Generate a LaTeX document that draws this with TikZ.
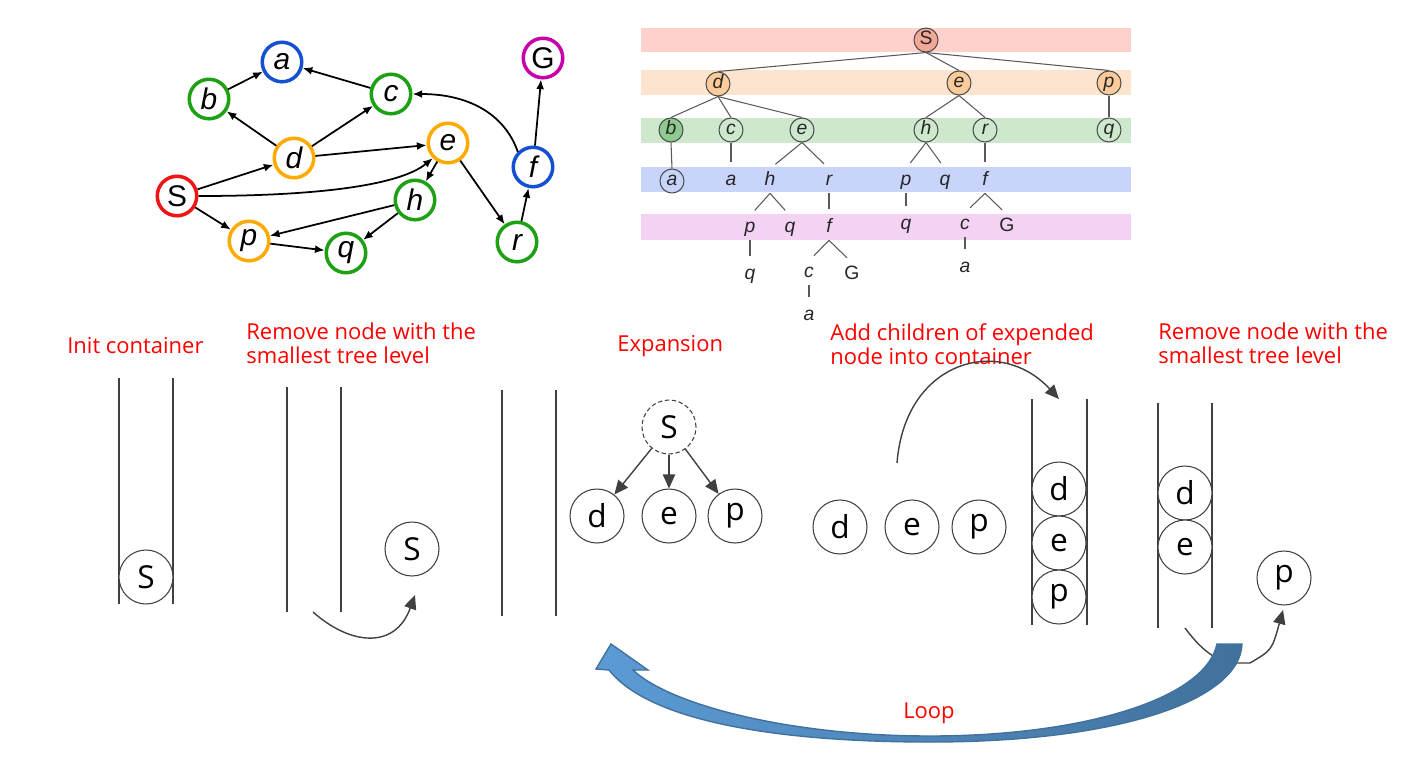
\documentclass[tikz,border=0pt]{standalone}
\usepackage{fontspec}
\setmainfont{Open Sans}
\newfontfamily\graphfont{Liberation Sans}
\usetikzlibrary{arrows.meta}

\definecolor{lblred}{RGB}{255,0,0}
\definecolor{gred}{RGB}{240,20,20}
\definecolor{ggreen}{RGB}{30,160,20}
\definecolor{gorange}{RGB}{255,170,0}
\definecolor{gblue}{RGB}{20,80,210}
\definecolor{gmagenta}{RGB}{200,0,170}
\definecolor{bandred}{RGB}{255,208,204}
\definecolor{bandorange}{RGB}{252,228,206}
\definecolor{bandgreen}{RGB}{206,232,205}
\definecolor{bandblue}{RGB}{201,212,250}
\definecolor{bandpink}{RGB}{243,210,243}
\definecolor{fillsalmon}{RGB}{245,168,152}
\definecolor{fillorange}{RGB}{251,203,155}
\definecolor{fillgreen}{RGB}{143,203,143}
\definecolor{loopdark}{RGB}{65,113,156}
\definecolor{looplight}{RGB}{91,155,213}
\definecolor{ink}{RGB}{64,64,64}

\tikzset{
  gnode/.style={circle, draw=#1, line width=2pt, minimum size=7.9mm, inner sep=0pt,
    font=\graphfont\fontsize{17}{17}\selectfont\itshape},
  gedge/.style={-{Latex[length=5.5pt,width=4.5pt]}, line width=1pt},
  tnode/.style={circle, minimum size=4.8mm, inner sep=0pt, text height=8pt, text depth=2.5pt,
    text=black!85, font=\graphfont\fontsize{11}{11}\selectfont\itshape},
  tcirc/.style={tnode, draw=black!70, line width=0.6pt, fill=#1},
  tedge/.style={draw=black!65, line width=0.6pt},
  tleaf/.style={tedge, shorten >=1.4mm},
  band/.style={fill=#1, draw=none},
  box/.style={circle, draw=ink, line width=0.6pt, fill=white, minimum size=10.8mm, inner sep=0pt,
    font=\fontsize{18}{18}\selectfont},
  wall/.style={draw=ink, line width=0.6pt},
  flow/.style={draw=ink, line width=0.8pt, -{Triangle[length=8pt,width=7pt]}},
  lbl/.style={text=lblred, align=left, inner sep=0pt, anchor=west,
    font=\fontsize{12.5}{13.8}\selectfont}
}

\begin{document}
\begin{tikzpicture}[x=0.2mm, y=-0.2mm]
\useasboundingbox (0,0) rectangle (1420,758);

% search graph
\node[gnode=gblue] (ga) at (282,62) {a};
\node[gnode=ggreen] (gb) at (209,99) {b};
\node[gnode=ggreen] (gc) at (391,94) {c};
\node[gnode=gorange] (gd) at (294,158) {d};
\node[gnode=gorange] (ge) at (448,143) {e};
\node[gnode=gred] (gS) at (177,196) {\upshape S};
\node[gnode=ggreen] (gh) at (415,200) {h};
\node[gnode=gorange] (gp) at (249,241) {p};
\node[gnode=ggreen] (gq) at (346,253) {q};
\node[gnode=ggreen] (gr) at (517,242) {r};
\node[gnode=gblue] (gf) at (533,167) {f};
\node[gnode=gmagenta] (gG) at (543,58) {\upshape G};

\draw[gedge] (gb) -- (ga);
\draw[gedge] (gc) -- (ga);
\draw[gedge] (gd) -- (gb);
\draw[gedge] (gd) -- (gc);
\draw[gedge] (gd) -- (ge);
\draw[gedge] (gS) -- (gd);
\draw[gedge] (gS.east) .. controls (320,196) and (400,185) .. (ge.south west);
\draw[gedge] (gS) -- (gp);
\draw[gedge] (ge) -- (gh);
\draw[gedge] (ge) -- (gr);
\draw[gedge] (gh) -- (gp);
\draw[gedge] (gh) -- (gq);
\draw[gedge] (gp) -- (gq);
\draw[gedge] (gr) -- (gf);
\draw[gedge] (gf) -- (gG);
\draw[gedge] (gf.north west) .. controls (505,115) and (470,94) .. (gc.east);

% search tree
\path[band=bandred] (641,28) rectangle (1131,52);
\path[band=bandorange] (641,70) rectangle (1131,95);
\path[band=bandgreen] (641,118) rectangle (1131,143);
\path[band=bandblue] (641,167) rectangle (1131,192);
\path[band=bandpink] (641,214) rectangle (1131,240);

\node[tcirc=fillsalmon] (t0S) at (926,40) {\upshape S};

\node[tcirc=fillorange] (t1d) at (718,84) {d};
\node[tcirc=fillorange] (t1e) at (959,83) {e};
\node[tcirc=fillorange] (t1p) at (1109,83) {p};

\node[tcirc=fillgreen] (t2b) at (671,130) {b};
\node[tcirc=none] (t2c) at (731,130) {c};
\node[tcirc=none] (t2e) at (802,130) {e};
\node[tcirc=none] (t2h) at (926,130) {h};
\node[tcirc=none] (t2r) at (985,130) {r};
\node[tcirc=none] (t2q) at (1109,130) {q};

\node[tcirc=none] (t3a) at (672,181) {a};
\node[tnode] (t3a2) at (731,181) {a};
\node[tnode] (t3h) at (770,181) {h};
\node[tnode] (t3r) at (829,181) {r};
\node[tnode] (t3p) at (906,181) {p};
\node[tnode] (t3q) at (945,181) {q};
\node[tnode] (t3f) at (985,181) {f};

\node[tnode] (t4p) at (750,228) {p};
\node[tnode] (t4q) at (790,228) {q};
\node[tnode] (t4f) at (829,228) {f};
\node[tnode] (t4q2) at (906,225) {q};
\node[tnode] (t4c) at (965,225) {c};
\node[tnode] (t4G) at (1007,227) {\upshape G};

\node[tnode] (t5q) at (750,275) {q};
\node[tnode] (t5c) at (809,273) {c};
\node[tnode] (t5G) at (852,275) {\upshape G};
\node[tnode] (t5a) at (965,268) {a};

\node[tnode] (t6a) at (809,316) {a};

\foreach \kid in {t1d,t1e,t1p}
  \draw[tedge] (t0S.south) -- (\kid.north);
\foreach \kid in {t2b,t2c,t2e}
  \draw[tedge] (t1d.south) -- (\kid.north);
\foreach \kid in {t2h,t2r}
  \draw[tedge] (t1e.south) -- (\kid.north);
\draw[tedge] (t1p.south) -- (t2q.north);
\draw[tedge] (t2b.south) -- (t3a.north);
\draw[tleaf] (t2c.south) -- (t3a2.north);
\draw[tleaf] (t2e.south) -- (t3h.north);
\draw[tleaf] (t2e.south) -- (t3r.north);
\draw[tleaf] (t2h.south) -- (t3p.north);
\draw[tleaf] (t2h.south) -- (t3q.north);
\draw[tleaf] (t2r.south) -- (t3f.north);
\draw[tleaf] (t3h.south) -- (t4p.north);
\draw[tleaf] (t3h.south) -- (t4q.north);
\draw[tleaf] (t3r.south) -- (t4f.north);
\draw[tleaf] (t3p.south) -- (t4q2.north);
\draw[tleaf] (t3f.south) -- (t4c.north);
\draw[tleaf] (t3f.south) -- (t4G.north);
\draw[tleaf] (t4p.south) -- (t5q.north);
\draw[tleaf] (t4f.south) -- (t5c.north);
\draw[tleaf] (t4f.south) -- (t5G.north);
\draw[tleaf] (t4c.south) -- (t5a.north);
\draw[tleaf] (t5c.south) -- (t6a.north);

% step labels
\node[lbl] (l1) at (67,346) {Init container};
\node[lbl] (l2) at (246,343) {Remove node with the\\smallest tree level};
\node[lbl] (l3) at (617,346) {Expansion};
\node[lbl] (l4) at (830,344) {Add children of expended\\node into container};
\node[lbl] (l5) at (1158,343) {Remove node with the\\smallest tree level};

% containers
\draw[wall] (119,378) -- (119,604) (173,378) -- (173,604);
\draw[wall] (287,387) -- (287,612) (341,387) -- (341,612);
\draw[wall] (502,390) -- (502,616) (556,390) -- (556,616);
\draw[wall] (1032,399) -- (1032,625) (1087,399) -- (1087,625);
\draw[wall] (1158,403) -- (1158,628) (1212,403) -- (1212,628);

\node[box] (c1S) at (146,577) {S};
\node[box] (c2S) at (412,549) {S};

\node[box, dash pattern=on 2.5pt off 1.5pt] (xS) at (669,427) {S};
\node[box] (xd) at (597,516) {d};
\node[box] (xe) at (669,516) {e};
\node[box] (xp) at (735,516) {p};
\foreach \kid in {xd,xe,xp}
  \draw[flow] (xS) -- (\kid);

\node[box] (ad) at (840,527) {d};
\node[box] (ae) at (912,527) {e};
\node[box] (ap) at (979,527) {p};

\node[box] (kd) at (1059,489) {d};
\node[box] (ke) at (1059,543) {e};
\node[box] (kp) at (1059,597) {p};

\node[box] (md) at (1185,493) {d};
\node[box] (me) at (1185,547) {e};
\node[box] (mp) at (1284,578) {p};

% moves
\coordinate (pop1) at (313,612);
\coordinate (pop1end) at (415,595);
\draw[flow] (pop1) .. controls (350,645) and (395,650) .. (pop1end);

\coordinate (push) at (897,463);
\coordinate (pushend) at (1059,399);
\draw[flow] (push) .. controls (905,360) and (1000,335) .. (pushend);

\coordinate (pop2) at (1185,628);
\coordinate (pop2end) at (1283,610);
\draw[flow] (pop2) .. controls (1200,648) and (1215,662) .. (1236,663) -- (1250,663)
  .. controls (1272,650) .. (pop2end);

% loop back
\shadedraw[left color=looplight, right color=loopdark, draw=loopdark, line width=0.8pt]
  (1217,644) .. controls (1205,700) and (1080,736) .. (930,736)
  .. controls (790,736) and (670,705) .. (633,670)
  -- (648,670) -- (611,644) -- (596,669) -- (609,670)
  .. controls (650,722) and (780,742) .. (930,742)
  .. controls (1120,742) and (1240,700) .. (1242,644) -- cycle;
\node[text=lblred, font=\fontsize{12.5}{13.8}\selectfont] (loop) at (929,713) {Loop};
\end{tikzpicture}
\end{document}
